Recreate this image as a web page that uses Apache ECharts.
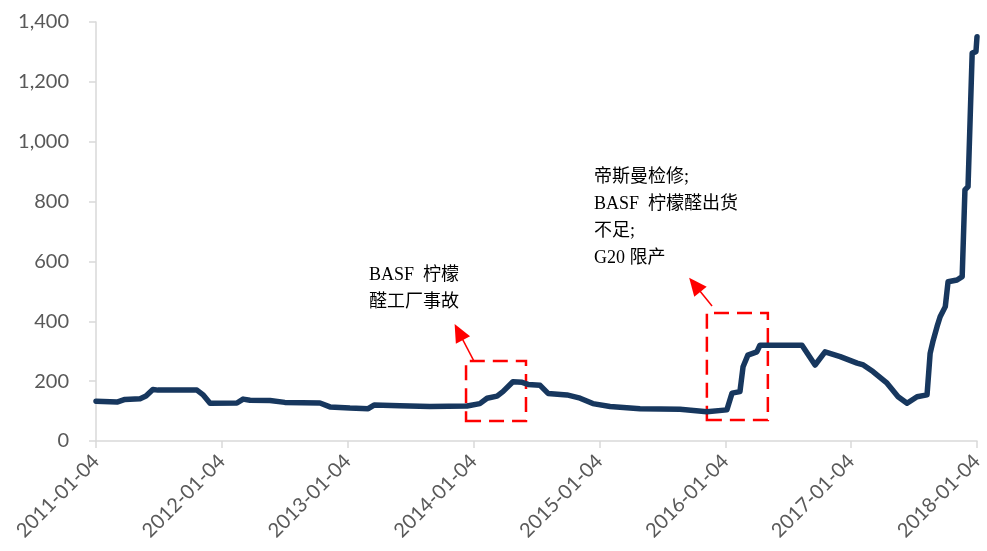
<!DOCTYPE html>
<html>
<head>
<meta charset="utf-8">
<script src="https://cdn.jsdelivr.net/npm/echarts@6/dist/echarts.min.js"></script>
<style>
  html, body { margin: 0; padding: 0; background: #fff; }
  #chart { width: 987px; height: 551px; }
</style>
</head>
<body>
<div id="chart"></div>
<script>
const dates = [
  "2011-01-04", "2011-03-06", "2011-03-29", "2011-05-12", "2011-05-29", "2011-06-18",
  "2011-07-03", "2011-10-24", "2011-11-10", "2011-12-01", "2012-02-17", "2012-03-06",
  "2012-03-26", "2012-05-23", "2012-07-05", "2012-10-15", "2012-11-13", "2013-01-10",
  "2013-03-04", "2013-03-21", "2013-06-04", "2013-08-30", "2013-12-16", "2014-01-22",
  "2014-02-12", "2014-03-13", "2014-03-30", "2014-04-28", "2014-05-25", "2014-06-11",
  "2014-07-16", "2014-08-08", "2014-10-02", "2014-11-09", "2014-12-16", "2015-02-04",
  "2015-05-02", "2015-08-26", "2015-11-12", "2016-01-09", "2016-01-24", "2016-02-16",
  "2016-02-25", "2016-03-10", "2016-04-05", "2016-04-14", "2016-08-14", "2016-09-21",
  "2016-10-20", "2016-12-03", "2017-01-21", "2017-02-08", "2017-03-08", "2017-04-18",
  "2017-05-20", "2017-06-15", "2017-07-14", "2017-08-12", "2017-08-21", "2017-08-30",
  "2017-09-10", "2017-09-19", "2017-10-04", "2017-10-12", "2017-11-07", "2017-11-22",
  "2017-11-30", "2017-12-09", "2017-12-15", "2017-12-21", "2018-01-01", "2018-01-04"
];
const prices = [
  133, 130, 139, 141, 150, 172,
  170, 170, 155, 126, 127, 140,
  136, 135, 129, 127, 114, 110,
  108, 120, 118, 115, 117, 125,
  143, 150, 165, 198, 196, 189,
  186, 159, 154, 143, 125, 115,
  108, 106, 98, 104, 160, 165,
  248, 287, 298, 320, 320, 254,
  298, 282, 260, 254, 232, 193,
  148, 126, 148, 154, 293, 337,
  382, 415, 449, 532, 538, 549,
  839, 850, 1073, 1296, 1301, 1351
];
const tickLabels = [
  "2011-01-04", "2012-01-04", "2013-01-04", "2014-01-04",
  "2015-01-04", "2016-01-04", "2017-01-04", "2018-01-04"
];
// 标注框（日期范围 + 数值范围）
const boxes = [
  [["2013-12-13", 67], ["2014-06-05", 267]],
  [["2015-11-12", 70], ["2016-05-07", 428]]
];
const arrows = [
  [["2014-01-05", 267], ["2013-11-22", 364]],
  [["2015-11-27", 451], ["2015-10-08", 522]]
];
const notes = [
  "BASF  柠檬\n醛工厂事故",
  "帝斯曼检修;\nBASF  柠檬醛出货\n不足;\nG20 限产"
];

const t = (d) => new Date(d).getTime();
const xMin = t(tickLabels[0]);
const xMax = t(tickLabels[tickLabels.length - 1]);
const xStep = (xMax - xMin) / (tickLabels.length - 1);

const chart = echarts.init(document.getElementById("chart"));
const option = {
  animation: false,
  grid: { left: 96, right: 10, top: 22, bottom: 110 },
  xAxis: {
    type: "value",
    min: xMin,
    max: xMax,
    interval: xStep,
    axisLine: { lineStyle: { color: "#d9d9d9", width: 1.5 } },
    axisTick: { show: true, length: 7, lineStyle: { color: "#d9d9d9", width: 1.5 } },
    splitLine: { show: false },
    axisLabel: {
      rotate: 45,
      margin: 17,
      color: "#595959",
      fontFamily: "Lato",
      fontSize: 20,
      formatter: (v) => tickLabels[Math.round((v - xMin) / xStep)] || ""
    }
  },
  yAxis: {
    type: "value",
    min: 0,
    max: 1400,
    interval: 200,
    axisLine: { show: true, lineStyle: { color: "#d9d9d9", width: 1.5 } },
    axisTick: { show: true, length: 7, lineStyle: { color: "#d9d9d9", width: 1.5 } },
    splitLine: { show: false },
    axisLabel: {
      margin: 27,
      color: "#595959",
      fontFamily: "Lato",
      fontSize: 20,
      formatter: (v) => v.toLocaleString("en-US")
    }
  },
  series: [
    {
      type: "line",
      data: dates.map((d, i) => [t(d), prices[i]]),
      showSymbol: false,
      lineStyle: { color: "#17375e", width: 5.5, cap: "round", join: "round" },
      markArea: {
        silent: true,
        itemStyle: {
          color: "rgba(0,0,0,0)",
          borderColor: "#ff0000",
          borderWidth: 2.5,
          borderType: [15, 8]
        },
        data: boxes.map((b) => [
          { coord: [t(b[0][0]), b[0][1]] },
          { coord: [t(b[1][0]), b[1][1]] }
        ])
      },
      markLine: {
        silent: true,
        symbol: ["none", "triangle"],
        symbolSize: [16, 18],
        label: { show: false },
        lineStyle: { color: "#ff0000", width: 1.5, type: "solid" },
        data: arrows.map((a) => [
          { coord: [t(a[0][0]), a[0][1]] },
          { coord: [t(a[1][0]), a[1][1]] }
        ])
      }
    }
  ],
  graphic: [
    {
      type: "text",
      left: 369,
      top: 262,
      style: {
        text: notes[0],
        fill: "#000",
        font: '18px "Liberation Serif", "Noto Sans CJK SC"',
        lineHeight: 27
      }
    },
    {
      type: "text",
      left: 594,
      top: 164,
      style: {
        text: notes[1],
        fill: "#000",
        font: '18px "Liberation Serif", "Noto Sans CJK SC"',
        lineHeight: 27
      }
    }
  ]
};
chart.setOption(option);
</script>
</body>
</html>
